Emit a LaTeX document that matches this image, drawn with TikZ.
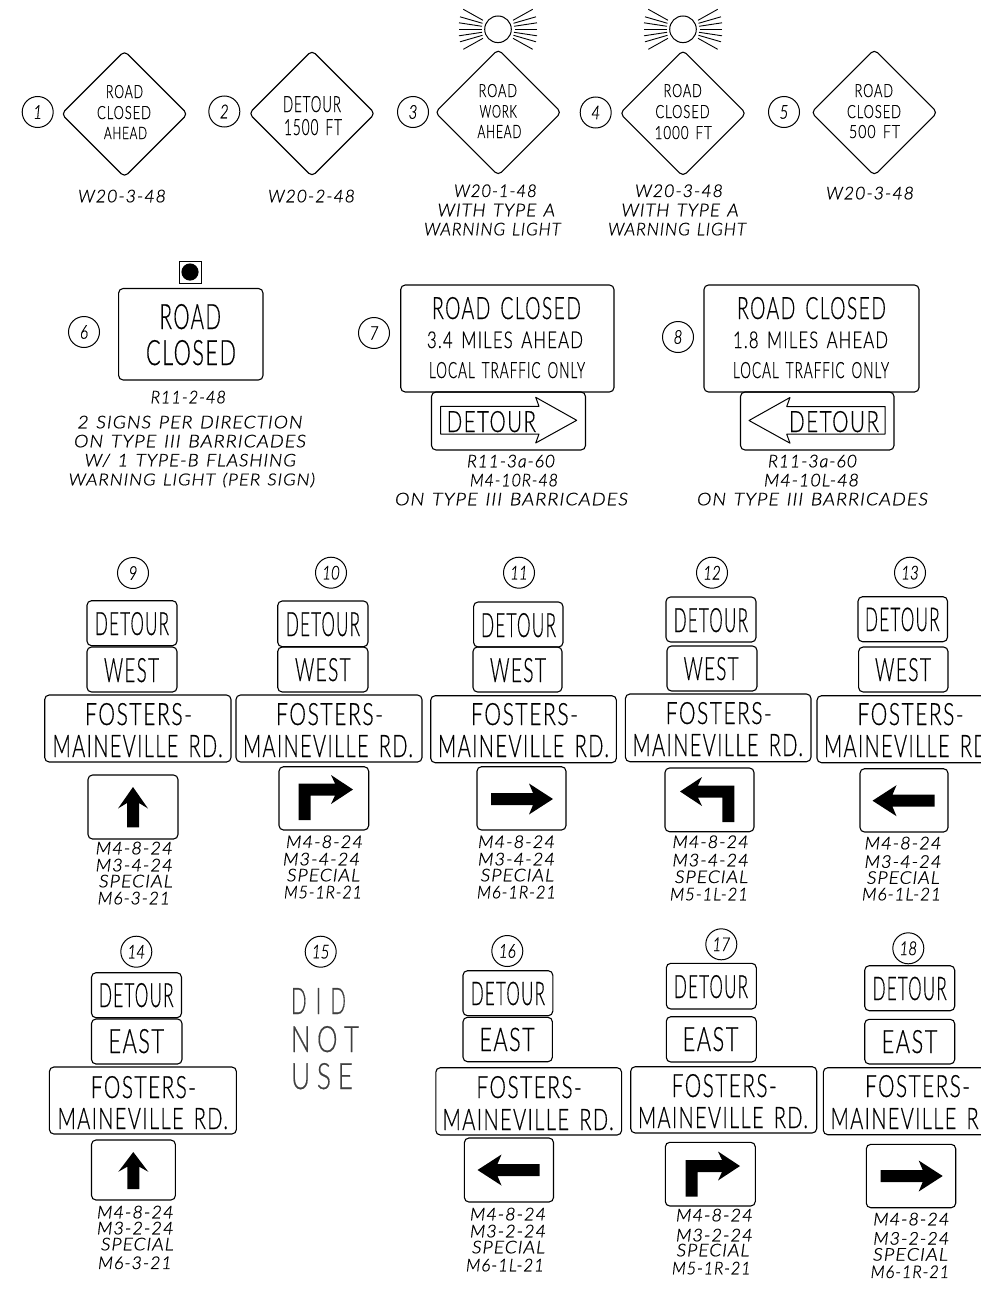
\documentclass[tikz,border=0pt]{standalone}
\usepackage{fontspec}
\usepackage{graphicx}
\newfontfamily\cadr[LetterSpace=7,WordSpace=1.5,FakeBold=0.5]{Lato Light}
\newfontfamily\cadm[LetterSpace=7,WordSpace=1.5,FakeBold=0.7]{Lato Light}
\newfontfamily\cadi[LetterSpace=5,WordSpace=1.3,FakeBold=0.8]{Lato Light Italic}
\newfontfamily\cadn[FakeBold=0.8]{Lato Light Italic}
\newcounter{tn}
\tikzset{
  signbox/.style={draw=black,line width=1.1pt,rounded corners=4.5pt},
  signtxt/.style={anchor=base west,inner sep=0pt,outer sep=0pt,text=black},
  numc/.style={circle,draw=black,line width=1pt,minimum size=31pt,inner sep=0pt,text=black},
  rayline/.style={line width=0.9pt}
}
\newcommand{\SignU}[5]{\stepcounter{tn}\node[signtxt] (t\thetn) at (#1,#4) {\resizebox{\dimexpr#2pt-#1pt\relax}{\dimexpr#4pt-#3pt\relax}{\fontsize{20}{24}\cadr #5}};}
\newcommand{\SignS}[5]{\stepcounter{tn}\node[signtxt] (t\thetn) at (#1,#4) {\resizebox{\dimexpr#2pt-#1pt\relax}{\dimexpr#4pt-#3pt\relax}{\fontsize{20}{24}\cadm #5}};}
\newcommand{\SignI}[4]{\stepcounter{tn}\node[signtxt] (t\thetn) at (#1,{#3+6.25}) {\resizebox{\dimexpr#2pt-#1pt\relax}{12.5pt}{\fontsize{20}{24}\cadi #4}};}
\newcommand{\Num}[3]{\stepcounter{tn}\node[numc] (t\thetn) at (#1,#2) {\scalebox{0.8}[1]{\fontsize{19}{19}\cadn #3}};}
\newcommand{\Bx}[4]{\draw[signbox] (#1,#2) rectangle (#3,#4);}
\newcommand{\Dia}[2]{\draw[signbox,shift={(#1,#2)}] (-63,0)--(0,-63)--(63,0)--(0,63)--cycle;}
\newcommand{\ArrH}[3]{\fill[black,shift={(#1,#2)},xscale=#3] (0,0)--(-24,-15.5)--(-20,-6)--(-62,-6)--(-62,6)--(-20,6)--(-24,15.5)--cycle;}
\newcommand{\ArrT}[3]{\fill[black,shift={(#1,#2)},xscale=#3] (0,0)--(-22,-14.5)--(-18,-6)--(-54.3,-6)--(-54.3,30.5)--(-42.3,30.5)--(-42.3,6)--(-18,6)--(-22,14.5)--cycle;}
\newcommand{\ArrU}[3]{\fill[black,shift={(#1,#2)},yscale=#3] (0,0)--(15,21.5)--(6,16)--(6,40.3)--(-6,40.3)--(-6,16)--(-15,21.5)--cycle;}
\newcommand{\ArrD}[3]{\draw[line width=1pt,line join=round,shift={(#1,#2)},xscale=#3] (0,0)--(-41,-23)--(-37.7,-14)--(-136,-14)--(-136,13.7)--(-37.7,13.7)--(-41,22.7)--cycle;}
\newcommand{\Lamp}[2]{%
  \draw[line width=1pt] (#1,#2) circle (13.3);
  \foreach \sx in {-1,1}{
    \foreach \oa/\ob/\ia/\ib in {34.7/-20/15/-9, 38/-12.5/15.5/-6, 39/-6.5/16/-3, 39/0/16.5/0, 39/6.5/16/3, 38/12.5/15.5/6, 34.7/20/15/9}{
      \draw[rayline,shift={(#1,#2)},xscale=\sx] (\oa,\ob)--(\ia,\ib);
    }}}
\begin{document}
\begin{tikzpicture}[x=1pt,y=-1pt]
\useasboundingbox (0,0) rectangle (981,1290);
\clip (0,0) rectangle (981,1290);
\fill[white] (0,0) rectangle (981,1290);
% row 1
\Num{37.7}{112}{1}\Num{224.3}{111.5}{2}\Num{413}{112}{3}\Num{595.7}{112.5}{4}\Num{784}{112}{5}
\Dia{124.5}{114}\Dia{312}{113.5}\Dia{498.2}{112.4}\Dia{683}{113.3}\Dia{874.3}{112.5}
\Lamp{498}{29.3}\Lamp{683}{29.3}
\SignS{106}{143}{85}{98}{ROAD}\SignS{97}{151}{106}{119}{CLOSED}\SignS{104}{147}{127}{139}{AHEAD}
\SignS{283}{341}{96}{112}{DETOUR}\SignS{284}{342}{119}{135}{1500 FT}
\SignS{478.6}{517}{84}{97}{ROAD}\SignS{479.6}{516.8}{105}{117.5}{WORK}\SignS{477.5}{521.4}{125}{138}{AHEAD}
\SignS{663.6}{701.8}{84}{97}{ROAD}\SignS{655.4}{709.6}{105}{118}{CLOSED}\SignS{654.6}{711.8}{126}{139}{1000 FT}
\SignS{854.6}{893}{84}{97}{ROAD}\SignS{847}{901}{105}{118}{CLOSED}\SignS{849}{900}{125}{138}{500 FT}
\SignI{78}{166}{196}{W20-3-48}\SignI{268}{355}{196}{W20-2-48}
\SignI{454}{536.8}{190.7}{W20-1-48}\SignI{437.5}{555}{210}{WITH TYPE A}\SignI{424}{560.7}{229}{WARNING LIGHT}
\SignI{635}{723}{190.7}{W20-3-48}\SignI{621.4}{738.6}{210}{WITH TYPE A}\SignI{608}{746}{229}{WARNING LIGHT}
\SignI{826}{914}{193}{W20-3-48}
% row 2
\draw[line width=1pt] (179,261) rectangle (201,283);
\fill[black] (190,272) circle (8.6);
\Num{84}{332}{6}\Num{374}{333}{7}\Num{678}{337}{8}
\Bx{118.6}{288.5}{263}{380}
\SignU{159.6}{221}{304}{329}{ROAD}\SignU{146}{236}{340}{365}{CLOSED}
\SignI{150.7}{226}{397}{R11-2-48}
\SignI{77.5}{302.5}{422}{2 SIGNS PER DIRECTION}\SignI{74}{306}{441}{ON TYPE III BARRICADES}
\SignI{84.6}{296}{460}{W/ 1 TYPE-B FLASHING}\SignI{68.6}{315}{479}{WARNING LIGHT (PER SIGN)}
\Bx{400.7}{285}{614}{392}
\SignU{432}{581}{297}{319}{ROAD CLOSED}\SignS{427}{583}{331.5}{348}{3.4 MILES AHEAD}\SignS{429}{585}{362}{378}{LOCAL TRAFFIC ONLY}
\Bx{431.5}{392}{585.5}{450}
\ArrD{576.7}{420.3}{1}
\SignU{446.7}{536}{411}{432}{DETOUR}
\SignI{467}{555}{461}{R11-3a-60}\SignI{470}{558}{480}{M4-10R-48}\SignI{395}{628}{499}{ON TYPE III BARRICADES}
\Bx{704}{285}{919}{392}
\SignU{737}{886}{297}{319}{ROAD CLOSED}\SignS{733}{888}{331.5}{348}{1.8 MILES AHEAD}\SignS{733}{889}{362}{378}{LOCAL TRAFFIC ONLY}
\Bx{740.5}{392}{894}{450}
\ArrD{749}{420.5}{-1}
\SignU{789}{879}{411}{432}{DETOUR}
\SignI{768}{857}{461}{R11-3a-60}\SignI{764}{859}{480}{M4-10L-48}\SignI{697}{928}{499}{ON TYPE III BARRICADES}
% row 3 : 9
\Num{133}{573}{9}
\Bx{87}{600.7}{177}{645.7}\SignU{95}{169}{612}{635}{DETOUR}
\Bx{87}{647}{177}{692}\SignU{104}{159}{658}{682}{WEST}
\Bx{44.7}{695}{231}{762}\SignU{85}{192}{703}{725}{FOSTERS-}\SignU{52.7}{222.7}{735}{757}{MAINEVILLE RD.}
\Bx{88}{775}{178}{839}\ArrU{133}{787}{1}
\SignI{95.7}{172.7}{848}{M4-8-24}\SignI{95.7}{172.7}{865}{M3-4-24}\SignI{99}{172.7}{881}{SPECIAL}\SignI{97.7}{170}{898}{M6-3-21}
% 10
\Num{331}{572.7}{10}
\Bx{277.7}{601}{368}{646.7}\SignU{286}{360}{612}{636}{DETOUR}
\Bx{277.7}{647}{368}{692}\SignU{295}{350.7}{658}{681}{WEST}
\Bx{236}{695}{422}{762}\SignU{276}{383}{703}{725}{FOSTERS-}\SignU{243}{413}{735}{757}{MAINEVILLE RD.}
\Bx{279}{766.7}{368.7}{830}\ArrT{353}{789.5}{1}
\SignI{286}{363}{841.7}{M4-8-24}\SignI{283}{360}{859}{M3-4-24}\SignI{287}{360}{875}{SPECIAL}\SignI{284}{362}{892}{M5-1R-21}
% 11
\Num{519}{572.7}{11}
\Bx{473.6}{602}{563}{647}\SignU{481}{556}{613}{637}{DETOUR}
\Bx{473}{647}{562}{692}\SignU{490}{546}{658}{682}{WEST}
\Bx{430.7}{695.7}{616.4}{762.7}\SignU{471}{578}{703}{725}{FOSTERS-}\SignU{438}{609}{735}{757}{MAINEVILLE RD.}
\Bx{477}{766.7}{566}{830}\ArrH{553}{799}{1}
\SignI{478}{555}{841.7}{M4-8-24}\SignI{478}{555}{859}{M3-4-24}\SignI{480.7}{554}{875}{SPECIAL}\SignI{477}{556}{892}{M6-1R-21}
% 12
\Num{712}{572.7}{12}
\Bx{666}{597}{756}{642}\SignU{673.6}{748}{608}{632}{DETOUR}
\Bx{667}{646}{757}{691}\SignU{683.6}{738.6}{657}{680}{WEST}
\Bx{625.4}{694}{811}{761.7}\SignU{665.7}{771.8}{702}{724}{FOSTERS-}\SignU{632.5}{803}{734}{756}{MAINEVILLE RD.}
\Bx{665}{768}{754}{831.7}\ArrT{680}{791.5}{-1}
\SignI{672.5}{748.6}{841.7}{M4-8-24}\SignI{672.5}{748.6}{860}{M3-4-24}\SignI{675}{748}{876.7}{SPECIAL}\SignI{670}{748}{894}{M5-1L-21}
% 13
\Num{910}{572.7}{13}
\Bx{858}{596.7}{947.5}{641.7}\SignU{865}{939.6}{607.5}{631}{DETOUR}
\Bx{858.6}{647}{948}{692}\SignU{875}{931}{658}{681}{WEST}
\Bx{817}{695.7}{1003}{762.7}\SignU{857.5}{963.6}{703}{725}{FOSTERS-}\SignU{824}{994}{735}{757}{MAINEVILLE RD.}
\Bx{860}{768.7}{948}{832}\ArrH{872.5}{800.7}{-1}
\SignI{864.6}{941.4}{843}{M4-8-24}\SignI{864.6}{941.4}{861.5}{M3-4-24}\SignI{867}{939.6}{877.5}{SPECIAL}\SignI{862}{941}{894}{M6-1L-21}
% row 4 : 14
\Num{136.3}{951.7}{14}
\Bx{91.5}{972.7}{181.5}{1017.7}\SignU{99}{173.6}{983}{1007}{DETOUR}
\Bx{91.5}{1019}{182}{1064}\SignU{108.5}{164}{1029}{1053}{EAST}
\Bx{49.4}{1067}{236.4}{1134}\SignU{90.8}{196}{1076}{1098}{FOSTERS-}\SignU{57.7}{228}{1108}{1129}{MAINEVILLE RD.}
\Bx{91.5}{1140}{175.4}{1200}\ArrU{133.3}{1152}{0.92}
\SignI{97}{173.6}{1212}{M4-8-24}\SignI{97}{173.6}{1228}{M3-2-24}\SignI{101}{173.6}{1244}{SPECIAL}\SignI{98}{171.7}{1262.7}{M6-3-21}
% 15
\Num{320.7}{951.7}{15}
\SignU{291}{346}{988}{1014}{\textcolor{black!75}{D\hskip .45em I\hskip .45em D}}
\SignU{291}{359}{1026}{1052}{\textcolor{black!75}{N\hskip .25em O\hskip .25em T}}
\SignU{291}{353}{1063}{1089}{\textcolor{black!75}{U\hskip .25em S\hskip .25em E}}
% 16
\Num{507.3}{951}{16}
\Bx{463}{970.7}{552.8}{1015.7}\SignU{470.8}{545}{981.7}{1005}{DETOUR}
\Bx{463}{1017.3}{552.4}{1061.7}\SignU{479.4}{534.7}{1027.7}{1051}{EAST}
\Bx{435.8}{1067.7}{621.6}{1135}\SignU{476.4}{581.8}{1076}{1098}{FOSTERS-}\SignU{442.6}{613.7}{1109}{1130}{MAINEVILLE RD.}
\Bx{464.4}{1138}{553.5}{1202}\ArrH{477.5}{1170}{-1}
\SignI{470}{546}{1214}{M4-8-24}\SignI{470}{546}{1231}{M3-2-24}\SignI{472}{545}{1247}{SPECIAL}\SignI{466}{544}{1265}{M6-1L-21}
% 17
\Num{721.3}{944.3}{17}
\Bx{666.3}{963.3}{756.3}{1009}\SignU{674}{748}{975}{998}{DETOUR}
\Bx{666.3}{1016.7}{756.3}{1062}\SignU{682.7}{738.3}{1027}{1051}{EAST}
\Bx{630.7}{1066.7}{816.7}{1133}\SignU{671.7}{776.7}{1074}{1097}{FOSTERS-}\SignU{638}{808}{1107}{1128}{MAINEVILLE RD.}
\Bx{665.3}{1142.3}{755.3}{1206}\ArrT{740}{1166}{1}
\SignI{676}{752.7}{1215}{M4-8-24}\SignI{676}{752.7}{1235}{M3-2-24}\SignI{676.7}{749.3}{1250}{SPECIAL}\SignI{672}{750.7}{1268}{M5-1R-21}
% 18
\Num{908.3}{948.3}{18}
\Bx{864.7}{965.7}{954.7}{1010.7}\SignU{872.7}{946.7}{976.7}{1000}{DETOUR}
\Bx{864.7}{1019.3}{954.7}{1064}\SignU{881.7}{937.3}{1030}{1053}{EAST}
\Bx{823.3}{1067.7}{1010}{1134.7}\SignU{865}{970}{1075}{1097}{FOSTERS-}\SignU{830.7}{1000.7}{1108}{1129}{MAINEVILLE RD.}
\Bx{866.3}{1144.3}{955.7}{1207.7}\ArrH{942.7}{1176}{1}
\SignI{873.3}{949.3}{1219}{M4-8-24}\SignI{873.3}{949.3}{1238.3}{M3-2-24}\SignI{873}{948}{1254.3}{SPECIAL}\SignI{870.7}{949.3}{1271.7}{M6-1R-21}
\end{tikzpicture}
\end{document}
